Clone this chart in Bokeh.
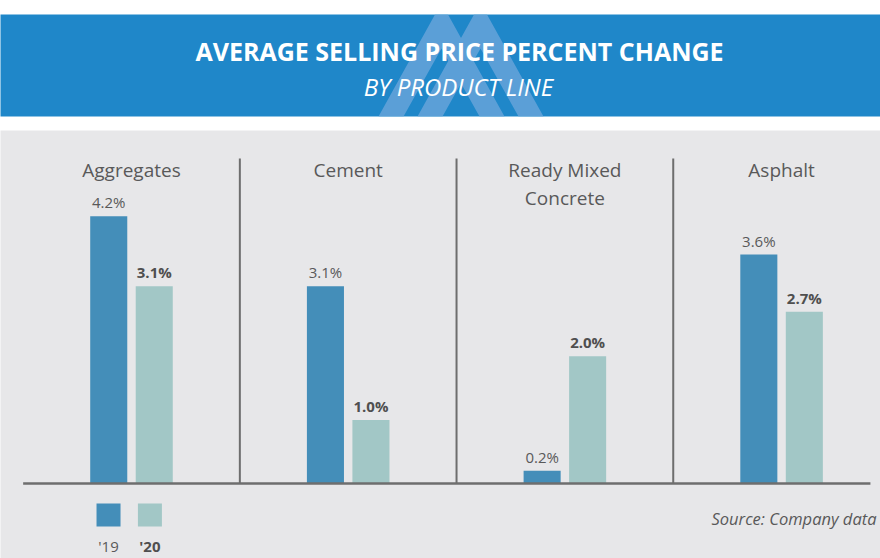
from bokeh.plotting import figure
from bokeh.layouts import column
from bokeh.models import ColumnDataSource, Label
from bokeh.core.properties import value
from bokeh.transform import dodge
from bokeh.embed import file_html
from bokeh.resources import INLINE

# ---- data ----
categories = ["Aggregates", "Cement", "Ready Mixed\nConcrete", "Asphalt"]
values_19 = [4.2, 3.1, 0.2, 3.6]
values_20 = [3.1, 1.0, 2.0, 2.7]
series = ["'19", "'20"]
title_text = "AVERAGE SELLING PRICE PERCENT CHANGE"
subtitle_text = "BY PRODUCT LINE"
source_text = "Source: Company data"

# ---- style ----
W = 880
FONT = "Open Sans"
BLUE = "#1F87C9"
LOGO = "#5B9FD7"
GRAY = "#E7E7E9"
C19 = "#448EB9"
C20 = "#A2C7C6"
TXT = "#595959"
TXT_B = "#4F4F4F"
LINE = "#6E6E6E"

# ---- header band ----
hdr = figure(width=W, height=130, x_range=(0, W), y_range=(0, 102),
             output_backend="svg", toolbar_location=None,
             x_axis_location=None, y_axis_location=None,
             min_border_left=0, min_border_right=0,
             min_border_top=14, min_border_bottom=14,
             background_fill_color=BLUE, border_fill_color="white",
             outline_line_color=None)
hdr.grid.visible = False


def logo_shape(apex):
    pts = [(apex - 63, 116), (apex - 6.5, 14), (apex + 6.5, 14), (apex + 63, 116),
           (apex + 38, 116), (apex, 48), (apex - 38, 116)]
    return [p[0] for p in pts], [116 - p[1] for p in pts]


lx1, ly1 = logo_shape(441)
lx2, ly2 = logo_shape(480)
hdr.patches(xs=[lx1, lx2], ys=[ly1, ly2], fill_color=LOGO, line_color=None)

hdr.text(x=[459], y=[66], text=[title_text], text_align="center",
         text_baseline="middle", text_color="white",
         text_font=value(FONT), text_font_style="bold", text_font_size="25px")
hdr.text(x=[458], y=[30], text=[subtitle_text], text_align="center",
         text_baseline="middle", text_color="white",
         text_font=value(FONT), text_font_style="italic", text_font_size="24px")

# ---- chart ----
src = ColumnDataSource(dict(
    idx=list(range(len(categories))),
    cat=categories,
    v19=values_19,
    v20=values_20,
    l19=[f"{v:.1f}%" for v in values_19],
    l20=[f"{v:.1f}%" for v in values_20],
))

p = figure(width=W, height=428, x_range=(-0.6045, 3.4565), y_range=(-1.179, 5.55),
           output_backend="svg", toolbar_location=None,
           x_axis_location=None, y_axis_location=None,
           min_border=0, background_fill_color=GRAY, border_fill_color=GRAY,
           outline_line_color=None)
p.grid.visible = False

OFF = 0.105
BW = 0.171

p.vbar(x=dodge("idx", -OFF), top="v19", bottom=0, width=BW, source=src,
       fill_color=C19, line_color=None)
p.vbar(x=dodge("idx", OFF), top="v20", bottom=0, width=BW, source=src,
       fill_color=C20, line_color=None)

p.text(x=dodge("idx", -OFF), y="v19", text="l19", source=src, y_offset=-4,
       text_align="center", text_baseline="bottom", text_color=TXT,
       text_font=value(FONT), text_font_size="15px")
p.text(x=dodge("idx", OFF), y="v20", text="l20", source=src, y_offset=-4,
       text_align="center", text_baseline="bottom", text_color=TXT_B,
       text_font=value(FONT), text_font_style="bold", text_font_size="15px")

# category headers
p.text(x="idx", y=5.14, text="cat", source=src, text_align="center",
       text_baseline="top", text_color=TXT, text_font=value(FONT),
       text_font_size="19px", text_line_height=1.1)

# separators and baseline
n = len(categories)
p.segment(x0=[i + 0.5 for i in range(n - 1)], y0=[0] * (n - 1),
          x1=[i + 0.5 for i in range(n - 1)], y1=[5.11] * (n - 1),
          line_color=LINE, line_width=2)
p.segment(x0=[-0.5], y0=[0], x1=[3.41], y1=[0], line_color=LINE, line_width=2.5)

# legend
leg_x = [-0.106, 0.085]
p.rect(x=leg_x, y=[-0.495, -0.495], width=24, height=23,
       width_units="screen", height_units="screen",
       fill_color=[C19, C20], line_color=None)
p.text(x=leg_x, y=[-0.99, -0.99], text=series, text_align="center",
       text_baseline="middle", text_color=[TXT, TXT_B],
       text_font=value(FONT), text_font_size="15px",
       text_font_style=["normal", "bold"])

p.add_layout(Label(x=876, y=40, x_units="screen", y_units="screen",
                   text=source_text, text_align="right", text_baseline="middle",
                   text_color=TXT, text_font=FONT, text_font_style="italic",
                   text_font_size="16.5px"))

layout = column(hdr, p, spacing=0)
open("out.html", "w").write(file_html(layout, INLINE))
